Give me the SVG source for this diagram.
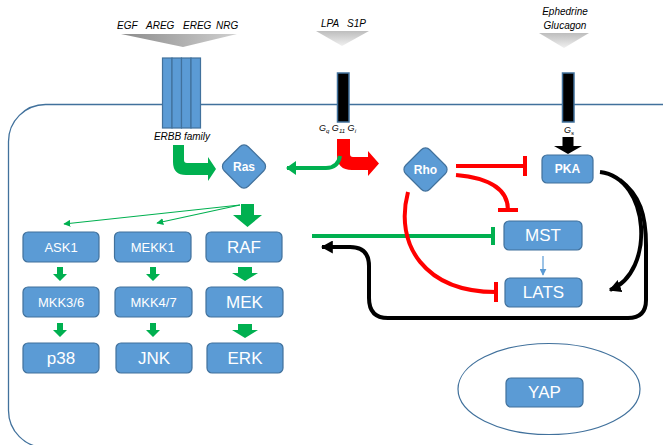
<svg xmlns="http://www.w3.org/2000/svg" width="663" height="445" viewBox="0 0 663 445">
<style>
  text { font-family: "Liberation Sans", Arial, sans-serif; }
  .box { fill: #5b9bd5; stroke: #41719c; stroke-width: 1.2; }
  .lbl { fill: #ffffff; text-anchor: middle; dominant-baseline: central; }
  .sm { font-size: 13px; }
  .lg { font-size: 17px; }
  .bd { font-size: 12px; font-weight: bold; }
  .lig { font-size: 10px; font-style: italic; fill: #000; }
  .gsub { font-size: 9px; font-style: italic; fill: #000; }
  .garr { fill: #00b050; }
  .red { stroke: #ff0000; stroke-width: 4; fill: none; }
  .grn { stroke: #00b050; fill: none; }
  .blk { stroke: #000; stroke-width: 4; fill: none; }
</style>
<defs>
  <linearGradient id="gEGF" x1="0" y1="0" x2="1" y2="0">
    <stop offset="0" stop-color="#8c8c8c"/>
    <stop offset="1" stop-color="#d0d0d0"/>
  </linearGradient>
  <linearGradient id="gLight" x1="0" y1="0" x2="0" y2="1">
    <stop offset="0" stop-color="#bdbdbd"/>
    <stop offset="1" stop-color="#f0f0f0"/>
  </linearGradient>
  <marker id="mGreenSm" viewBox="0 0 10 10" refX="9" refY="5" markerWidth="7" markerHeight="7" markerUnits="userSpaceOnUse" orient="auto">
    <path d="M0,0 L10,5 L0,10 Z" fill="#00b050"/>
  </marker>
  <marker id="mGreen" viewBox="0 0 10 10" refX="9" refY="5" markerWidth="10" markerHeight="14" markerUnits="userSpaceOnUse" orient="auto" preserveAspectRatio="none">
    <path d="M0,0 L10,5 L0,10 Z" fill="#00b050"/>
  </marker>
  <marker id="mBlack" viewBox="0 0 10 10" refX="9" refY="5" markerWidth="12" markerHeight="13" markerUnits="userSpaceOnUse" orient="auto" preserveAspectRatio="none">
    <path d="M0,0 L10,5 L0,10 Z" fill="#000"/>
  </marker>
  <marker id="mBlue" viewBox="0 0 10 10" refX="9" refY="5" markerWidth="7" markerHeight="7" markerUnits="userSpaceOnUse" orient="auto">
    <path d="M0,0 L10,5 L0,10 Z" fill="#5b9bd5"/>
  </marker>
  <marker id="tRed" viewBox="0 0 4 20" refX="2" refY="10" markerWidth="4" markerHeight="20" markerUnits="userSpaceOnUse" orient="auto">
    <rect x="0" y="0" width="4" height="20" fill="#ff0000"/>
  </marker>
  <marker id="tGreen" viewBox="0 0 4 18" refX="2" refY="9" markerWidth="4" markerHeight="18" markerUnits="userSpaceOnUse" orient="auto">
    <rect x="0" y="0" width="4" height="18" fill="#00b050"/>
  </marker>
  <path id="arrBig" d="M-7,0 L7,0 L7,6 L13,6 L0,14 L-13,6 L-7,6 Z"/>
  <path id="arrSm" d="M-3,0 L3,0 L3,7 L7,7 L0,14 L-7,7 L-3,7 Z"/>
</defs>

<rect width="663" height="445" fill="#ffffff"/>

<g id="cell">
  <rect x="8.5" y="104.5" width="720" height="343" rx="37" ry="37" fill="none" stroke="#41719c" stroke-width="1.3"/>
</g>

<g id="ligands">
  <text class="lig" x="117" y="29">EGF</text>
  <text class="lig" x="146" y="29">AREG</text>
  <text class="lig" x="183" y="29">EREG</text>
  <text class="lig" x="216" y="29">NRG</text>
  <path d="M121,34 L237,34 L183,47 Z" fill="url(#gEGF)"/>
  <text class="lig" x="321" y="27">LPA</text>
  <text class="lig" x="347" y="27">S1P</text>
  <path d="M316,31 L369,31 L342,46 Z" fill="url(#gLight)"/>
  <text class="lig" x="565" y="15" text-anchor="middle">Ephedrine</text>
  <text class="lig" x="565" y="29" text-anchor="middle">Glucagon</text>
  <path d="M539,33 L589,33 L564,48 Z" fill="url(#gLight)"/>
</g>

<g id="erbb">
  <rect class="box" x="162.5" y="58" width="9.5" height="70"/>
  <rect class="box" x="172" y="58" width="9.5" height="70"/>
  <rect class="box" x="181.5" y="58" width="9.5" height="70"/>
  <rect class="box" x="191" y="58" width="9.5" height="70"/>
  <text class="lig" x="182" y="140" text-anchor="middle">ERBB family</text>
</g>

<g id="gpcr1">
  <rect x="337.5" y="73" width="11.5" height="49" fill="#000" stroke="#41719c" stroke-width="1.5"/>
  <text class="gsub" x="319" y="131">G<tspan font-size="6" dy="2">q</tspan><tspan dy="-2"> G</tspan><tspan font-size="6" dy="2">11</tspan><tspan dy="-2"> G</tspan><tspan font-size="6" dy="2">i</tspan></text>
</g>

<g id="gpcr2">
  <rect x="562.5" y="73" width="11.5" height="49" fill="#000" stroke="#41719c" stroke-width="1.5"/>
  <text class="gsub" x="564" y="133">G<tspan font-size="6" dy="2">s</tspan></text>
</g>

<g id="connectors">
  <!-- ERBB -> Ras -->
  <path class="garr" d="M173,145 L184,145 L184,160 Q184,163 187,163 L208,163 L208,157 L216,169 L208,181 L208,175 L186,175 Q173,175 173,162 Z"/>
  <!-- Gq -> Rho (red L) -->
  <path fill="#ff0000" d="M337,139 L350,139 L350,154 Q350,157 353,157 L368,157 L368,151 L379,163.5 L368,176 L368,170 L352,170 Q337,170 337,155 Z"/>
  <!-- Gq -> Ras -->
  <path class="grn" stroke-width="4" d="M340,156 Q338,168 326,168 L287,168" marker-end="url(#mGreen)"/>
  <!-- Gs -> PKA -->
  <path fill="#000" d="M562.5,137 L573.5,137 L573.5,146 L582,146 L568,154 L554,146 L562.5,146 Z"/>
  <!-- Ras -> RAF -->
  <path class="garr" d="M241,204 L254,204 L254,215 L262,215 L247.5,227 L233,215 L241,215 Z"/>
  <!-- Ras -> ASK1, MEKK1 -->
  <path class="grn" stroke-width="1.2" d="M240,205 L64,224" marker-end="url(#mGreenSm)"/>
  <path class="grn" stroke-width="1.2" d="M240,205 L157,223" marker-end="url(#mGreenSm)"/>
  <!-- cascade arrows -->
  <use href="#arrSm" class="garr" x="60" y="267"/>
  <use href="#arrSm" class="garr" x="153" y="267"/>
  <use href="#arrBig" class="garr" x="245" y="267"/>
  <use href="#arrSm" class="garr" x="60" y="323"/>
  <use href="#arrSm" class="garr" x="153" y="323"/>
  <use href="#arrBig" class="garr" x="245" y="324"/>
  <!-- RAF -| MST -->
  <path class="grn" stroke-width="4" d="M312,236 L493,236" marker-end="url(#tGreen)"/>
  <!-- Rho -| PKA -->
  <path class="red" d="M456,166 L525,166" marker-end="url(#tRed)"/>
  <!-- Rho -| MST -->
  <path class="red" d="M456,175 C490,178 508,190 508,210" marker-end="url(#tRed)"/>
  <!-- Rho -| LATS -->
  <path class="red" d="M408,192 C394,245 425,292 496,292" marker-end="url(#tRed)"/>
  <!-- MST -> LATS -->
  <path stroke="#5b9bd5" stroke-width="1.2" fill="none" d="M543,256 L543,275" marker-end="url(#mBlue)"/>
  <!-- PKA -> LATS -->
  <path class="blk" d="M600,172 C650,178 656,272 610,290" marker-end="url(#mBlack)"/>
  <!-- PKA -> RAF loop -->
  <path class="blk" d="M620,180 C640,195 646,215 646,245 L646,300 Q646,318 628,318 L388,318 Q369,318 369,298 L369,266 Q369,247 350,247 L322,247" marker-end="url(#mBlack)"/>
</g>

<g id="ras">
  <rect class="box" x="227" y="149.5" width="34" height="34" rx="6" transform="rotate(45 244 166.5)"/>
  <text class="lbl bd" x="244" y="166.5">Ras</text>
</g>
<g id="rho">
  <rect class="box" x="408.5" y="152.5" width="34" height="34" rx="6" transform="rotate(45 425.5 169.5)"/>
  <text class="lbl bd" x="425.5" y="169.5">Rho</text>
</g>
<g id="pka">
  <rect class="box" x="542" y="155" width="51" height="28" rx="5"/>
  <text class="lbl bd" x="567.5" y="169">PKA</text>
</g>
<g id="mst">
  <rect class="box" x="504" y="221" width="78" height="29" rx="5"/>
  <text class="lbl lg" x="543" y="235.5">MST</text>
</g>
<g id="lats">
  <rect class="box" x="505" y="278" width="77" height="29" rx="5"/>
  <text class="lbl lg" x="543.5" y="292.5">LATS</text>
</g>
<g id="ask1">
  <rect class="box" x="23" y="232" width="76" height="30" rx="5"/>
  <text class="lbl sm" x="61" y="247">ASK1</text>
</g>
<g id="mekk1">
  <rect class="box" x="114.5" y="232" width="76.5" height="30" rx="5"/>
  <text class="lbl sm" x="152.7" y="247">MEKK1</text>
</g>
<g id="raf">
  <rect class="box" x="206" y="232" width="76" height="30" rx="5"/>
  <text class="lbl lg" x="244" y="247">RAF</text>
</g>
<g id="mkk36">
  <rect class="box" x="23" y="287" width="76" height="30" rx="5"/>
  <text class="lbl sm" x="61" y="302">MKK3/6</text>
</g>
<g id="mkk47">
  <rect class="box" x="115" y="287" width="77" height="30" rx="5"/>
  <text class="lbl sm" x="153.5" y="302">MKK4/7</text>
</g>
<g id="mek">
  <rect class="box" x="206" y="287" width="77" height="30" rx="5"/>
  <text class="lbl lg" x="244.5" y="302">MEK</text>
</g>
<g id="p38">
  <rect class="box" x="23" y="343" width="76" height="30" rx="5"/>
  <text class="lbl lg" x="61" y="358">p38</text>
</g>
<g id="jnk">
  <rect class="box" x="116" y="343" width="76" height="30" rx="5"/>
  <text class="lbl lg" x="154" y="358">JNK</text>
</g>
<g id="erk">
  <rect class="box" x="207" y="343" width="76" height="30" rx="5"/>
  <text class="lbl lg" x="245" y="358">ERK</text>
</g>
<g id="nucleus">
  <ellipse cx="549" cy="389" rx="91" ry="45.5" fill="none" stroke="#41719c" stroke-width="1.2"/>
</g>
<g id="yap">
  <rect class="box" x="506" y="378" width="77" height="29" rx="5"/>
  <text class="lbl lg" x="544.5" y="392.5">YAP</text>
</g>
</svg>
